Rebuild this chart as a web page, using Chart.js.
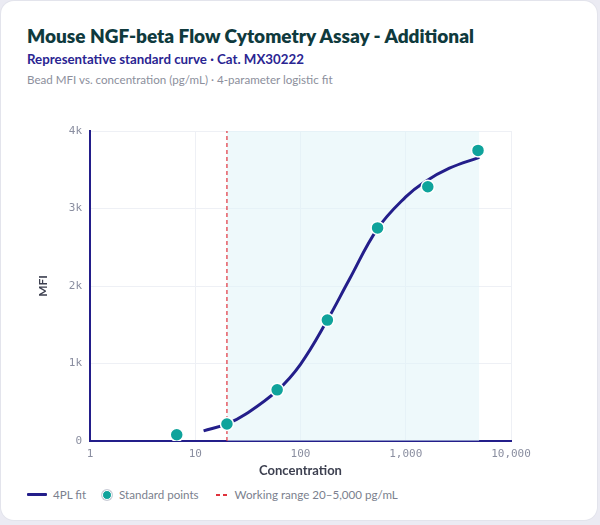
<!DOCTYPE html>
<html>
<head>
<meta charset="utf-8">
<script src="https://cdn.jsdelivr.net/npm/chart.js@4.4.1/dist/chart.umd.min.js"></script>
<style>
  html, body { margin:0; padding:0; background:#ebebf3; width:600px; height:525px; overflow:hidden; }
  .card { position:absolute; left:1px; top:1px; width:596px; height:519px; background:#fff; border-radius:13px; box-shadow:0 0 0 1px #e3e4ec; }
  .t1 { position:absolute; left:27px; top:24px; font-family:Lato, sans-serif; font-weight:800; font-size:19px; color:#0f3a3d; white-space:nowrap; }
  .t2 { position:absolute; left:27px; top:51px; font-family:Lato, sans-serif; font-weight:700; font-size:13.3px; color:#2a2592; white-space:nowrap; }
  .t3 { position:absolute; left:27px; top:73px; font-family:Lato, sans-serif; font-weight:400; font-size:11.6px; color:#8c8f9c; white-space:nowrap; }
  #wrap { position:absolute; left:0; top:100px; width:600px; height:382px; }
  .legend { position:absolute; left:27px; top:488px; font-family:Lato, sans-serif; font-size:11.6px; color:#7b7f8e; white-space:nowrap; display:flex; align-items:center; }
  .legend .item { display:flex; align-items:center; }
  .ic-line { width:20px; height:3px; background:#231e8a; margin-right:6px; border-radius:1px; }
  .ic-dot { width:8px; height:8px; border-radius:50%; background:#0fa39b; border:1.5px solid #fff; box-shadow:0 0 0 1px #c9ccd6; margin-left:16px; margin-right:7px; }
  .ic-dash { width:11px; height:2px; background:linear-gradient(to right, #e0323c 0 4px, transparent 4px 7px, #e0323c 7px 11px); margin-left:17px; margin-right:8px; }
</style>
</head>
<body>
<div class="card"></div>
<div class="t1">Mouse NGF-beta Flow Cytometry Assay - Additional</div>
<div class="t2">Representative standard curve · Cat. MX30222</div>
<div class="t3">Bead MFI vs. concentration (pg/mL) · 4-parameter logistic fit</div>
<div id="wrap"><canvas id="c"></canvas></div>
<div class="legend">
  <div class="item"><span class="ic-line"></span>4PL fit</div>
  <div class="item"><span class="ic-dot"></span>Standard points</div>
  <div class="item"><span class="ic-dash"></span>Working range 20–5,000 pg/mL</div>
</div>
<script>
// Standard points (pg/mL, MFI)
const stdConc = [6.67, 20, 60, 180, 540, 1620, 4860];
const stdMFI  = [80, 220, 660, 1560, 2750, 3280, 3750];
// 4PL fitted curve
const fitConc = [12, 20, 30, 60, 100, 180, 290, 540, 1000, 1500, 2600, 5000];
const fitMFI  = [130, 220, 345, 650, 990, 1560, 2080, 2740, 3150, 3340, 3520, 3660];
// Working range
const rangeLow = 20, rangeHigh = 5000;
// Axis ticks
const xTicks = [1, 10, 100, 1000, 10000];
const xTickLabels = ['1', '10', '100', '1,000', '10,000'];
const yTicks = [0, 1000, 2000, 3000, 4000];
const yTickLabels = ['0', '1k', '2k', '3k', '4k'];
const yMax = 4000;

const pts = (xs, ys) => xs.map((x, i) => ({x, y: ys[i]}));

new Chart(document.getElementById('c'), {
  type: 'line',
  data: {
    datasets: [
      { label: 'Working range shade', data: [{x:rangeLow, y:yMax}, {x:rangeHigh, y:yMax}],
        fill: 'origin', backgroundColor: 'rgba(224,244,247,0.55)', borderWidth: 0, pointRadius: 0, order: 5 },
      { label: 'Working range 20–5,000 pg/mL', data: [{x:rangeLow, y:0}, {x:rangeLow, y:yMax}],
        borderColor: '#e0323c', borderWidth: 1.2, borderDash: [4, 3], pointRadius: 0, fill: false, order: 4 },
      { label: '4PL fit', data: pts(fitConc, fitMFI), borderColor: '#231e8a', borderWidth: 3,
        pointRadius: 0, fill: false, tension: 0.4, order: 2 },
      { label: 'Standard points', data: pts(stdConc, stdMFI), showLine: false,
        pointRadius: 6.5, pointBackgroundColor: '#0fa39b', pointBorderColor: '#ffffff', pointBorderWidth: 1.5, order: 1 }
    ]
  },
  options: {
    responsive: true, maintainAspectRatio: false, animation: false,
    layout: { padding: { left: 30, right: 89, top: 31, bottom: 0 } },
    plugins: { legend: { display: false }, tooltip: { enabled: false } },
    scales: {
      x: {
        type: 'logarithmic', min: 1, max: 10000,
        afterBuildTicks: s => { s.ticks = xTicks.map(v => ({value: v})); },
        afterFit: s => { s.height = 41; },
        border: { color: '#231e8a', width: 2 },
        grid: { color: '#eef0f5', drawTicks: false },
        ticks: { padding: 7, color: '#8a8ea0', font: { family: 'DejaVu Sans Mono', size: 11 },
          maxRotation: 0, autoSkip: false,
          callback: (v) => { const i = xTicks.indexOf(v); return i >= 0 ? xTickLabels[i] : ''; } },
        title: { display: true, text: 'Concentration', color: '#3d4050',
          font: { family: 'Lato', size: 13, weight: 'bold' }, padding: { top: 2, bottom: 3 } }
      },
      y: {
        min: 0, max: yMax,
        afterBuildTicks: s => { s.ticks = yTicks.map(v => ({value: v})); },
        afterFit: s => { s.width = 60; },
        border: { color: '#231e8a', width: 2 },
        grid: { color: '#eef0f5', drawTicks: false },
        ticks: { padding: 8, color: '#8a8ea0', font: { family: 'DejaVu Sans Mono', size: 11 },
          callback: (v) => { const i = yTicks.indexOf(v); return i >= 0 ? yTickLabels[i] : ''; } },
        title: { display: true, text: 'MFI', color: '#3d4050',
          font: { family: 'Lato', size: 12, weight: 'bold' }, padding: { top: 6, bottom: 4 } }
      }
    }
  }
});
</script>
</body>
</html>
